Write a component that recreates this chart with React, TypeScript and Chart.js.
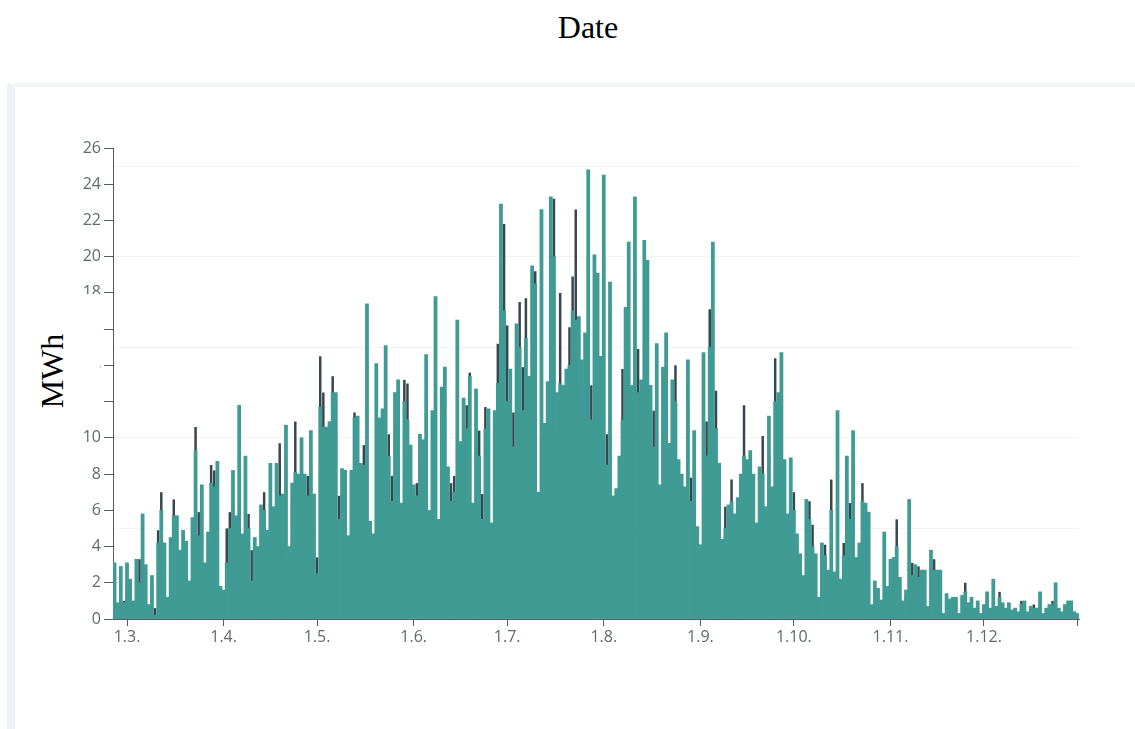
import React, { useEffect, useRef } from 'react';
import { Chart, registerables } from 'chart.js';

Chart.register(...registerables);

// Category axis: one entry per day, from 25 Feb to 31 Dec
const START_DAY = 25;
const START_MONTH = 2;
const MONTH_LENGTHS = [31, 28, 31, 30, 31, 30, 31, 31, 30, 31, 30, 31];
const DAY_COUNT = 310;

const DAYS: string[] = [];
{
  let d = START_DAY;
  let m = START_MONTH;
  while (DAYS.length < DAY_COUNT) {
    DAYS.push(`${d}.${m}.`);
    d += 1;
    if (d > MONTH_LENGTHS[m - 1]) {
      d = 1;
      m += 1;
    }
  }
}

// Y axis ticks and grid values
const Y_MAX = 26;
const Y_STEP = 2;
const GRID_VALUES = [5, 10, 15, 20, 25];

// Teal series (MWh per day)
const TEAL = [
  3.1, 0.9, 2.9, 0.9, 3.1, 2.2, 1.0, 3.3, 2.0, 5.8,
  3.0, 0.8, 2.4, 0.2, 4.2, 6.0, 4.2, 1.2, 4.5, 5.7,
  5.7, 3.8, 4.9, 4.3, 2.1, 5.6, 9.3, 4.6, 7.4, 3.1,
  4.8, 7.5, 7.3, 8.7, 1.8, 1.6, 3.1, 5.0, 8.2, 5.7,
  11.8, 4.7, 9.0, 5.0, 2.1, 4.5, 4.0, 6.3, 6.0, 4.9,
  8.6, 6.2, 8.6, 6.8, 6.9, 10.7, 4.0, 7.5, 8.1, 8.0,
  10.0, 8.0,
  6.8, 10.4, 6.9, 2.5, 11.7, 10.6, 10.6, 10.9,
  12.5, 12.5, 5.5, 8.3, 8.2, 4.6, 8.2, 11.1, 11.2, 8.6,
  8.5, 17.4, 5.4, 4.7, 14.1, 11.1, 11.6, 15.1, 9.0, 6.5,
  12.5, 13.2, 6.4, 12.0, 11.0, 9.6, 7.4, 6.8, 10.2, 9.9,
  14.6, 6.0, 11.5, 17.8, 5.5, 12.8, 13.9, 8.4, 6.5, 7.0,
  16.5, 9.8, 12.2, 10.5, 13.4, 6.4, 12.7, 9.0, 5.5, 10.5,
  11.6, 5.3, 11.5, 13.0,
  22.9, 17.0, 12.0, 13.8, 9.5, 16.3,
  15.0, 11.5, 15.5, 13.4, 19.5, 18.5, 7.0, 22.6, 10.8, 13.1,
  23.3, 20.0, 12.5, 13.0, 12.9, 13.8, 14.0, 17.0, 16.5, 16.7,
  14.3, 15.8, 24.8, 11.0, 20.1, 19.1, 14.5, 24.5, 8.5, 18.6,
  6.8, 7.2, 9.0, 11.0, 17.2, 20.8, 12.9, 23.3, 12.5, 13.2,
  20.9, 19.8, 12.9, 9.5, 15.2, 7.4, 13.9, 15.8, 9.7, 13.2,
  12.0, 8.8, 8.0, 7.3, 14.3,
  6.5, 10.4, 5.1, 4.1, 14.7,
  9.0, 15.0, 20.8, 10.5, 8.6, 4.4, 5.0, 6.3, 6.5, 5.8,
  6.7, 8.0, 9.0, 8.8, 9.3, 8.0, 5.3, 8.4, 8.0, 6.2,
  11.2, 7.3, 12.0, 12.5, 14.7, 8.8, 5.8, 8.9, 6.0, 4.7,
  3.6, 2.4, 6.6, 5.5, 4.0, 3.6, 1.2, 4.2, 3.5, 2.7,
  6.0, 2.6, 11.5, 2.2, 3.5, 9.0, 5.5, 10.4, 3.4, 4.2,
  6.5, 6.4, 5.9, 0.8, 2.1,
  1.7, 1.05, 4.8, 1.8, 3.3,
  3.4, 4.0, 2.3, 1.0, 1.6, 6.6, 2.4, 3.0, 2.3, 2.7,
  2.7, 0.7, 3.8, 2.7, 2.7, 2.7, 0.3, 1.4, 1.1, 1.2,
  1.2, 0.3, 1.3, 1.5, 0.9, 1.2, 0.6, 1.0, 0.3, 0.8,
  1.5, 0.6, 2.2, 0.7, 1.2, 0.9, 0.6, 0.9, 0.5, 0.6,
  0.4, 0.8, 1.0, 0.4, 0.7, 0.6, 0.6, 1.5, 0.3, 0.6,
  0.8, 0.8, 2.0, 0.6, 0.4, 0.8, 1.0, 1.0, 0.4, 0.3,
];

// Dark series (MWh per day)
const DARK = [
  2.2, 0.7, 1.8, 1.0, 2.0, 1.6, 0.8, 2.4, 3.3, 3.0,
  2.6, 0.6, 1.8, 0.6, 4.9, 7.0, 3.5, 1.0, 3.6, 6.6,
  4.8, 3.0, 4.0, 3.5, 1.8, 4.4, 10.6, 5.9, 6.0, 2.5,
  4.0, 8.5, 8.2, 7.0, 1.5, 0.2, 5.0, 5.9, 6.5, 4.5,
  9.0, 4.0, 7.5, 5.8, 3.8, 3.6, 3.5, 5.5, 7.0, 4.0,
  7.0, 5.0, 7.5, 9.7, 3.0, 9.0, 3.2, 6.5, 10.9, 6.8,
  8.0, 6.5,
  7.9, 8.5, 5.5, 3.4, 14.5, 12.5, 9.0, 9.0,
  13.4, 10.5, 6.8, 7.0, 6.5, 3.8, 6.8, 11.4, 9.0, 7.2,
  9.6, 14.0, 4.5, 4.0, 11.5, 9.0, 9.5, 12.5, 10.2, 7.9,
  10.0, 11.0, 5.0, 13.2, 13.0, 8.0, 6.0, 7.5, 8.5, 8.0,
  12.0, 5.0, 9.5, 14.0, 4.5, 10.5, 11.5, 7.0, 7.5, 7.9,
  14.9, 8.0, 10.0, 11.8, 13.6, 5.0, 10.5, 10.4, 6.9, 11.7,
  9.5, 4.5, 9.5, 15.2,
  18.0, 21.8, 16.2, 11.0, 11.4, 13.5,
  17.5, 13.9, 17.7, 11.0, 16.0, 19.2, 6.0, 18.5, 9.0, 11.0,
  19.0, 23.2, 10.0, 18.0, 10.5, 11.5, 16.1, 18.9, 22.6, 14.0,
  12.0, 13.0, 20.0, 12.9, 16.5, 16.0, 12.0, 20.0, 10.2, 15.5,
  5.5, 6.0, 7.5, 13.8, 14.0, 17.0, 10.5, 19.0, 14.9, 11.0,
  17.0, 16.0, 10.5, 11.5, 12.5, 6.0, 11.5, 13.0, 8.0, 11.0,
  14.0, 7.0, 6.5, 6.0, 12.0,
  7.8, 8.5, 4.2, 3.5, 12.0,
  10.9, 17.1, 16.5, 12.6, 7.0, 3.6, 6.2, 5.2, 7.7, 4.8,
  5.5, 6.5, 11.8, 7.2, 7.6, 6.5, 4.3, 7.0, 10.1, 5.0,
  9.0, 6.0, 14.4, 10.5, 12.0, 7.2, 4.8, 7.3, 7.0, 3.8,
  3.0, 2.0, 5.5, 6.5, 5.2, 3.0, 1.0, 3.4, 4.1, 2.2,
  7.7, 2.1, 9.0, 1.8, 4.2, 7.4, 6.4, 8.5, 2.8, 3.5,
  7.5, 5.2, 4.8, 0.6, 1.7,
  1.4, 0.9, 3.9, 1.5, 2.7,
  2.8, 5.5, 1.9, 0.8, 1.3, 5.3, 3.1, 2.5, 2.9, 2.2,
  2.2, 0.6, 3.1, 3.3, 2.2, 2.2, 0.3, 1.1, 0.9, 1.0,
  1.0, 0.3, 1.1, 2.0, 0.7, 1.0, 0.5, 0.8, 0.3, 0.7,
  1.2, 0.5, 1.8, 0.6, 1.5, 0.7, 0.5, 0.7, 0.4, 0.5,
  0.3, 1.0, 0.8, 0.3, 0.6, 0.8, 0.5, 1.2, 0.3, 0.5,
  0.7, 1.0, 1.6, 0.5, 0.3, 0.7, 0.8, 0.8, 0.3, 0.3,
];

const TEAL_COLOR = '#3f9b94';
const DARK_COLOR = '#37474f';
const AXIS_COLOR = '#555b60';
const TICK_TEXT = '#5f6a72';
const TICK_FONT = { family: "'Open Sans', sans-serif", size: 16 };

const isMonthStart = (i: number) => DAYS[i] !== undefined && DAYS[i].startsWith('1.');

export default function App() {
  const canvasRef = useRef<HTMLCanvasElement | null>(null);

  useEffect(() => {
    if (!canvasRef.current) return;
    const chart = new Chart(canvasRef.current, {
      type: 'bar',
      data: {
        labels: DAYS,
        datasets: [
          {
            label: 'teal',
            data: TEAL,
            backgroundColor: TEAL_COLOR,
            borderWidth: 0,
            grouped: false,
            barPercentage: 1,
            categoryPercentage: 1,
          },
          {
            label: 'dark',
            data: DARK,
            backgroundColor: DARK_COLOR,
            borderWidth: 0,
            grouped: false,
            barPercentage: 0.8,
            categoryPercentage: 1,
          },
        ],
      },
      options: {
        animation: false,
        responsive: false,
        devicePixelRatio: 1,
        layout: { padding: { top: 62, right: 56, bottom: 80, left: 0 } },
        plugins: {
          legend: { display: false },
          tooltip: { enabled: false },
          title: { display: false },
        },
        scales: {
          x: {
            type: 'category',
            offset: true,
            afterBuildTicks: (scale: any) => {
              const t: { value: number }[] = [];
              DAYS.forEach((_, i) => {
                if (isMonthStart(i)) t.push({ value: i });
              });
              t.push({ value: DAYS.length - 1 });
              scale.ticks = t;
            },
            afterFit: (scale: any) => {
              scale.height = 30;
            },
            ticks: {
              autoSkip: false,
              maxRotation: 0,
              minRotation: 0,
              color: TICK_TEXT,
              font: TICK_FONT,
              padding: 2,
              callback: (value: any) => (isMonthStart(Number(value)) ? DAYS[Number(value)] : ''),
            },
            grid: {
              display: true,
              offset: false,
              drawOnChartArea: false,
              drawTicks: true,
              tickLength: 7,
              tickColor: AXIS_COLOR,
            },
            border: { display: true, color: AXIS_COLOR, width: 1 },
          },
          y: {
            type: 'linear',
            position: 'left',
            min: 0,
            max: Y_MAX,
            afterFit: (scale: any) => {
              scale.width = 98;
            },
            ticks: {
              stepSize: Y_STEP,
              color: TICK_TEXT,
              font: TICK_FONT,
              padding: 3,
            },
            grid: {
              drawOnChartArea: false,
              drawTicks: true,
              tickLength: 9,
              tickColor: AXIS_COLOR,
            },
            border: { display: true, color: AXIS_COLOR, width: 1 },
          },
          y2: {
            type: 'linear',
            position: 'right',
            min: 0,
            max: Y_MAX,
            afterBuildTicks: (scale: any) => {
              scale.ticks = GRID_VALUES.map((v) => ({ value: v }));
            },
            afterFit: (scale: any) => {
              scale.width = 0;
            },
            ticks: { display: false },
            grid: {
              drawOnChartArea: true,
              drawTicks: false,
              color: '#f2f3f3',
              lineWidth: 1,
            },
            border: { display: false },
          },
        },
      },
    } as any);
    return () => chart.destroy();
  }, []);

  return (
    <div style={{ position: 'absolute', left: 0, top: 0, width: 1135, height: 729, overflow: 'hidden', background: '#fff' }}>
      <div
        style={{
          position: 'absolute',
          left: 0,
          top: 11,
          width: 1176,
          textAlign: 'center',
          fontFamily: "'Liberation Serif', 'Times New Roman', serif",
          fontSize: 32,
          lineHeight: '32px',
          color: '#000',
        }}
      >
        Date
      </div>
      <div
        style={{
          position: 'absolute',
          left: 7,
          top: 83,
          width: 1128,
          height: 646,
          boxSizing: 'border-box',
          borderTop: '4px solid #f3f4f4',
          borderLeft: '8px solid #eef3f7',
          background: '#fff',
        }}
      />
      <canvas
        ref={canvasRef}
        width={1120}
        height={643}
        style={{ position: 'absolute', left: 15, top: 86, width: 1120, height: 643 }}
      />
      <div
        style={{
          position: 'absolute',
          left: 16,
          top: 294,
          width: 84,
          height: 126,
          background: '#fff',
        }}
      />
      <div style={{ position: 'absolute', left: 52, top: 371, width: 0, height: 0 }}>
        <div
          style={{
            position: 'absolute',
            left: 0,
            top: 0,
            transform: 'translate(-50%, -50%) rotate(-90deg)',
            fontFamily: "'Liberation Serif', 'Times New Roman', serif",
            fontSize: 32,
            lineHeight: '32px',
            whiteSpace: 'nowrap',
            color: '#000',
          }}
        >
          MWh
        </div>
      </div>
    </div>
  );
}
